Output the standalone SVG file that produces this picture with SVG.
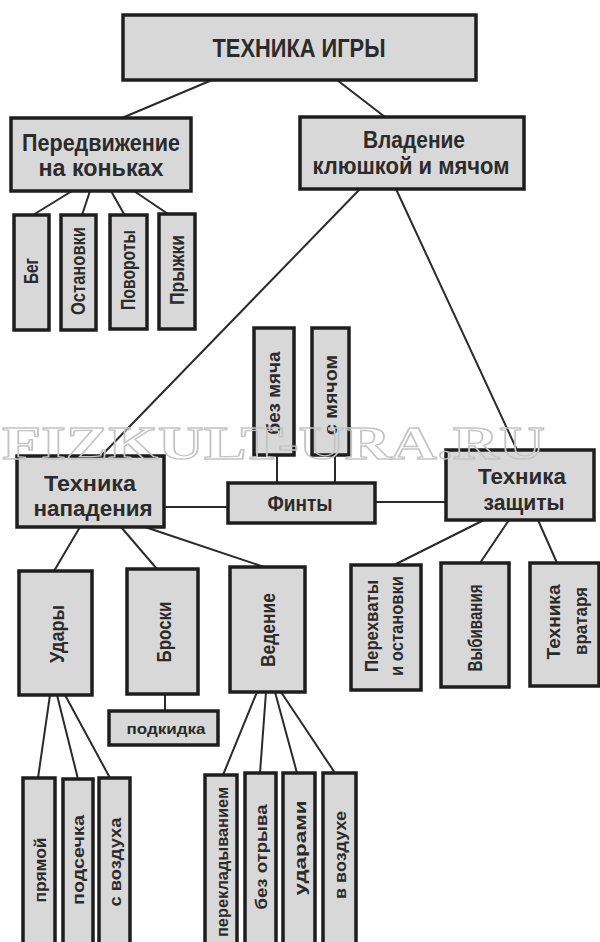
<svg xmlns="http://www.w3.org/2000/svg" width="600" height="942" viewBox="0 0 600 942">
<style>
.b{fill:#d8d8d8;stroke:#1e1e1e;stroke-width:3.5}
.t{font-family:"Liberation Sans",Arial,sans-serif;font-weight:bold;fill:#2b2b2b;text-anchor:middle;dominant-baseline:central}
.c line{stroke:#2b2b2b;stroke-width:2;stroke-linecap:round}
.wm{font-family:"Liberation Serif","Times New Roman",serif;font-weight:bold;fill:none;stroke:#c4c4c4;stroke-width:1.3}
</style>
<rect width="600" height="942" fill="#ffffff"/>
<g class="c" id="connectors">
<line x1="212" y1="80" x2="122" y2="118"/>
<line x1="337" y1="80" x2="385" y2="117"/>
<line x1="72" y1="191" x2="33" y2="215"/>
<line x1="90" y1="191" x2="82" y2="215"/>
<line x1="111" y1="191" x2="124" y2="214"/>
<line x1="134" y1="191" x2="168" y2="214"/>
<line x1="360" y1="189" x2="101" y2="456"/>
<line x1="396" y1="189" x2="517" y2="450"/>
<line x1="277" y1="455" x2="277" y2="483"/>
<line x1="335" y1="455" x2="335" y2="483"/>
<line x1="164" y1="507" x2="228" y2="507"/>
<line x1="375" y1="502" x2="446" y2="502"/>
<line x1="80" y1="527" x2="54" y2="571"/>
<line x1="121" y1="527" x2="157" y2="569"/>
<line x1="145" y1="527" x2="264" y2="567"/>
<line x1="484" y1="520" x2="394" y2="565"/>
<line x1="509" y1="520" x2="480" y2="563"/>
<line x1="538" y1="520" x2="557" y2="563"/>
<line x1="165" y1="694" x2="165" y2="711"/>
<line x1="50" y1="695" x2="38" y2="778"/>
<line x1="57" y1="695" x2="78" y2="779"/>
<line x1="65" y1="695" x2="110" y2="778"/>
<line x1="257" y1="692" x2="223" y2="775"/>
<line x1="266" y1="692" x2="260" y2="773"/>
<line x1="275" y1="692" x2="297" y2="773"/>
<line x1="281" y1="692" x2="335" y2="773"/>
</g>
<g id="n-top"><rect class="b" x="123" y="15" width="353" height="65"/><text class="t" x="299" y="48" font-size="26" textLength="173" lengthAdjust="spacingAndGlyphs">ТЕХНИКА ИГРЫ</text></g>
<g id="n-peredv"><rect class="b" x="11" y="118" width="180" height="73"/><text class="t" x="101" y="142" font-size="24" textLength="158" lengthAdjust="spacingAndGlyphs">Передвижение</text><text class="t" x="101" y="167" font-size="24" textLength="125" lengthAdjust="spacingAndGlyphs">на коньках</text></g>
<g id="n-vlad"><rect class="b" x="300" y="117" width="224" height="72"/><text class="t" x="414" y="139" font-size="24" textLength="102" lengthAdjust="spacingAndGlyphs">Владение</text><text class="t" x="411" y="165" font-size="24" textLength="197" lengthAdjust="spacingAndGlyphs">клюшкой и мячом</text></g>
<g id="n-beg"><rect class="b" x="14" y="215" width="35" height="115"/><text class="t" transform="translate(31,271) rotate(-90)" font-size="20" textLength="26" lengthAdjust="spacingAndGlyphs">Бег</text></g>
<g id="n-ost"><rect class="b" x="61" y="215" width="35" height="115"/><text class="t" transform="translate(78,271) rotate(-90)" font-size="20" textLength="88" lengthAdjust="spacingAndGlyphs">Остановки</text></g>
<g id="n-pov"><rect class="b" x="110" y="215" width="37" height="114"/><text class="t" transform="translate(128,270) rotate(-90)" font-size="20" textLength="80" lengthAdjust="spacingAndGlyphs">Повороты</text></g>
<g id="n-pryzh"><rect class="b" x="159" y="214" width="36" height="115"/><text class="t" transform="translate(177,270) rotate(-90)" font-size="20" textLength="70" lengthAdjust="spacingAndGlyphs">Прыжки</text></g>
<g id="n-bezm"><rect class="b" x="254" y="328" width="40" height="127"/><text class="t" transform="translate(274,393) rotate(-90)" font-size="18" textLength="83" lengthAdjust="spacingAndGlyphs">без мяча</text></g>
<g id="n-sm"><rect class="b" x="312" y="328" width="37" height="127"/><text class="t" transform="translate(331,395) rotate(-90)" font-size="18" textLength="80" lengthAdjust="spacingAndGlyphs">с мячом</text></g>
<g id="n-napad"><rect class="b" x="17" y="456" width="147" height="71"/><text class="t" x="90" y="483" font-size="22" textLength="92" lengthAdjust="spacingAndGlyphs">Техника</text><text class="t" x="93" y="508" font-size="22" textLength="119" lengthAdjust="spacingAndGlyphs">нападения</text></g>
<g id="n-finty"><rect class="b" x="228" y="483" width="147" height="40"/><text class="t" x="300" y="503" font-size="22" textLength="65" lengthAdjust="spacingAndGlyphs">Финты</text></g>
<g id="n-zash"><rect class="b" x="446" y="450" width="148" height="70"/><text class="t" x="522" y="476" font-size="22" textLength="88" lengthAdjust="spacingAndGlyphs">Техника</text><text class="t" x="524" y="502" font-size="22" textLength="81" lengthAdjust="spacingAndGlyphs">защиты</text></g>
<g id="n-udary"><rect class="b" x="19" y="571" width="73" height="124"/><text class="t" transform="translate(56,634) rotate(-90)" font-size="21" textLength="58" lengthAdjust="spacingAndGlyphs">Удары</text></g>
<g id="n-broski"><rect class="b" x="127" y="569" width="71" height="125"/><text class="t" transform="translate(163,632) rotate(-90)" font-size="21" textLength="61" lengthAdjust="spacingAndGlyphs">Броски</text></g>
<g id="n-vedenie"><rect class="b" x="230" y="567" width="75" height="125"/><text class="t" transform="translate(267,630) rotate(-90)" font-size="21" textLength="74" lengthAdjust="spacingAndGlyphs">Ведение</text></g>
<g id="n-perehv"><rect class="b" x="351" y="565" width="70" height="125"/><text class="t" transform="translate(371,626) rotate(-90)" font-size="19" textLength="92" lengthAdjust="spacingAndGlyphs">Перехваты</text><text class="t" transform="translate(396,626) rotate(-90)" font-size="19" textLength="100" lengthAdjust="spacingAndGlyphs">и остановки</text></g>
<g id="n-vybiv"><rect class="b" x="441" y="563" width="68" height="124"/><text class="t" transform="translate(475,628) rotate(-90)" font-size="20" textLength="87" lengthAdjust="spacingAndGlyphs">Выбивания</text></g>
<g id="n-vratar"><rect class="b" x="530" y="563" width="69" height="123"/><text class="t" transform="translate(553,622) rotate(-90)" font-size="19" textLength="75" lengthAdjust="spacingAndGlyphs">Техника</text><text class="t" transform="translate(580,621) rotate(-90)" font-size="19" textLength="68" lengthAdjust="spacingAndGlyphs">вратаря</text></g>
<g id="n-podkid"><rect class="b" x="109" y="711" width="109" height="34"/><text class="t" x="166" y="728" font-size="15" textLength="79" lengthAdjust="spacingAndGlyphs">подкидка</text></g>
<g id="n-pryamoy"><rect class="b" x="23" y="778" width="32" height="175"/><text class="t" transform="translate(40,870) rotate(-90)" font-size="17" textLength="65" lengthAdjust="spacingAndGlyphs">прямой</text></g>
<g id="n-podsech"><rect class="b" x="63" y="779" width="30" height="175"/><text class="t" transform="translate(78,860) rotate(-90)" font-size="17" textLength="90" lengthAdjust="spacingAndGlyphs">подсечка</text></g>
<g id="n-svozd"><rect class="b" x="99" y="778" width="31" height="175"/><text class="t" transform="translate(115,862) rotate(-90)" font-size="17" textLength="89" lengthAdjust="spacingAndGlyphs">с воздуха</text></g>
<g id="n-perekl"><rect class="b" x="205" y="775" width="32" height="178"/><text class="t" transform="translate(222,862) rotate(-90)" font-size="17" textLength="150" lengthAdjust="spacingAndGlyphs">перекладыванием</text></g>
<g id="n-bezotr"><rect class="b" x="245" y="773" width="31" height="180"/><text class="t" transform="translate(261,857) rotate(-90)" font-size="17" textLength="105" lengthAdjust="spacingAndGlyphs">без отрыва</text></g>
<g id="n-udarami"><rect class="b" x="283" y="773" width="32" height="180"/><text class="t" transform="translate(300,848) rotate(-90)" font-size="17" textLength="95" lengthAdjust="spacingAndGlyphs">ударами</text></g>
<g id="n-vvozd"><rect class="b" x="323" y="773" width="33" height="180"/><text class="t" transform="translate(340,855) rotate(-90)" font-size="17" textLength="88" lengthAdjust="spacingAndGlyphs">в воздухе</text></g>
<text class="wm" x="2" y="459" font-size="46" textLength="543" lengthAdjust="spacingAndGlyphs">FIZKULT-URA.RU</text>
</svg>
